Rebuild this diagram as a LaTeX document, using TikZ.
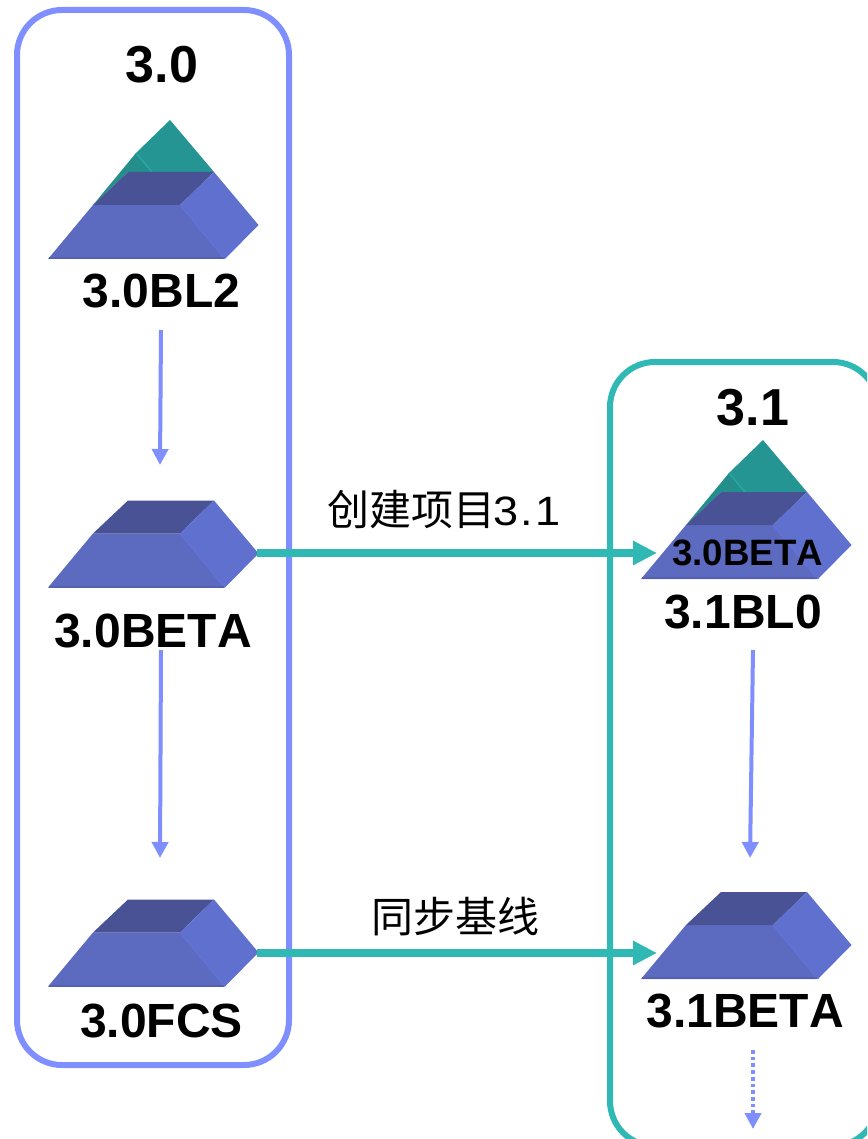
\documentclass[tikz,border=0pt]{standalone}
\usepackage{fontspec}
\setmainfont[Kerning=Off]{Liberation Sans}
\newfontfamily\cjkfont{Noto Sans CJK SC}
\newfontfamily\widedigits[FakeStretch=1.1]{Liberation Sans}
\usetikzlibrary{arrows.meta}
\definecolor{boxblue}{HTML}{7F8FFF}
\definecolor{boxteal}{HTML}{2FB8B4}
\definecolor{frontface}{HTML}{5C6ABF}
\definecolor{frontedge}{HTML}{6272D6}
\definecolor{bottomedge}{HTML}{5560B0}
\definecolor{topface}{HTML}{4A5296}
\definecolor{sideface}{HTML}{5F70CE}
\definecolor{pyrteal}{HTML}{249592}
\definecolor{pyrdark}{HTML}{248E8A}
\definecolor{pyredge}{HTML}{27A8A2}
\newcommand{\spaceddigit}[1]{\makebox[21pt]{\widedigits\fontsize{41}{41}\selectfont #1}}
\tikzset{
  groupblue/.style={draw=boxblue,line width=6pt,rounded corners=45pt},
  groupteal/.style={draw=boxteal,line width=6pt,rounded corners=45pt},
  stepflow/.style={draw=boxblue,line width=4pt,-{Triangle[length=16pt,width=16pt]}},
  stepdots/.style={draw=boxblue,line width=4.5pt,dash pattern=on 3.7pt off 3pt,-{Triangle[length=16pt,width=16pt]}},
  crossflow/.style={draw=boxteal,line width=8pt,-{Triangle[length=24pt,width=23pt]}},
  biglabel/.style={anchor=base,inner sep=0pt,font=\fontsize{48}{48}\selectfont\bfseries},
  titlelabel/.style={anchor=base,inner sep=0pt,font=\fontsize{52}{52}\selectfont\bfseries},
  innerlabel/.style={anchor=base,inner sep=0pt,font=\fontsize{36.7}{37}\selectfont\bfseries},
  cjklabel/.style={anchor=base,inner sep=0pt,font=\fontsize{42}{42}\cjkfont},
  prismshape/.pic={
    \fill[frontface] (0,0) -- (45,-54) -- (132,-54) -- (177,0) -- cycle;
    \fill[topface] (45,-54) -- (80,-87) -- (166,-87) -- (132,-54) -- cycle;
    \fill[sideface] (132,-54) -- (166,-87) -- (210.5,-34) -- (177,0) -- cycle;
    \draw[frontedge,line width=1.5pt] (132,-54) -- (176,-1);
    \draw[bottomedge,line width=2pt] (1,-1) -- (176,-1);
    \coordinate (-right) at (209,-35);
    \coordinate (-entry) at (16,-26);
  },
  capshape/.pic={
    \fill[pyrteal] (122,-139) -- (166,-87) -- (104,-87) -- (88,-106) -- cycle;
    \fill[pyrdark] (88,-106) -- (104,-87) -- (80,-87) -- (45,-54) -- cycle;
    \draw[pyredge,line width=1.5pt] (88,-106) -- (104,-87);
  }
}
\begin{document}
\begin{tikzpicture}[x=1pt,y=-1pt]
\useasboundingbox (0,0) rectangle (867,1139);
\clip (0,0) rectangle (867,1139);
% group frames
\draw[groupblue] (17,10) rectangle (289,1065);
\draw[groupteal] (610,362) rectangle (878,1146);
% column 3.0
\node[titlelabel] (t30) at (162,83) {3.0};
\pic (cap302) at (48,259) {capshape};
\pic (p302) at (48,259) {prismshape};
\node[biglabel] (l302) at (161.5,308) {3.0BL2};
\pic (p30b) at (48,587.5) {prismshape};
\node[biglabel] (l30b) at (153,647) {3.0BETA};
\pic (p30f) at (48,986.5) {prismshape};
\node[biglabel] (l30f) at (161.5,1037) {3.0FCS};
% column 3.1
\node[titlelabel] (t31) at (753,425) {3.1};
\pic (cap310) at (641,579) {capshape};
\pic (p310) at (641,579) {prismshape};
\node[innerlabel] (i30b) at (747.5,565) {3.0BETA};
\node[biglabel] (l310) at (743,628) {3.1BL0};
\pic (p31b) at (641,979) {prismshape};
\node[biglabel] (l31b) at (745,1027) {3.1BETA};
% free ends of the vertical arrows
\coordinate (a1s) at (161,330);
\coordinate (a1e) at (160,465);
\coordinate (a2s) at (161,650);
\coordinate (a2e) at (160,858);
\coordinate (a3s) at (753,650);
\coordinate (a3e) at (750,858);
\coordinate (a4s) at (753,1050);
\coordinate (a4e) at (753,1129);
\draw[stepflow] (a1s) -- (a1e);
\draw[stepflow] (a2s) -- (a2e);
\draw[stepflow] (a3s) -- (a3e);
\draw[stepdots] (a4s) -- (a4e);
% cross arrows
\draw[crossflow] (p310-entry -| p30b-right) -- (p310-entry);
\draw[crossflow] (p31b-entry -| p30f-right) -- (p31b-entry);
\node[cjklabel] (c1) at (443,525) {创建项目\spaceddigit{3}\spaceddigit{.}\spaceddigit{1}};
\node[cjklabel] (c2) at (455,932.5) {同步基线};
\end{tikzpicture}
\end{document}
